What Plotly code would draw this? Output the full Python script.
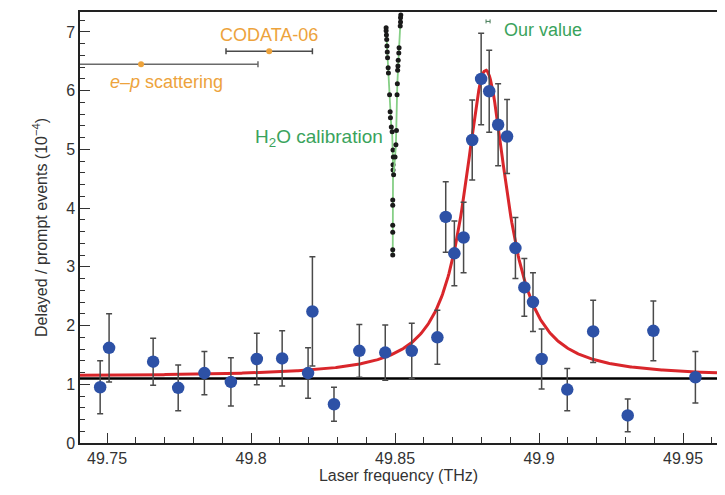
import numpy as np
import plotly.graph_objects as go

# Measured data (laser frequency in THz, delayed/prompt ratio in 1e-4)
freq = [49.7476, 49.7507, 49.7660, 49.7747, 49.7838, 49.7930, 49.8020, 49.8108,
        49.8198, 49.8213, 49.8288, 49.8376, 49.8466, 49.8558, 49.8647, 49.8676,
        49.8706, 49.8738, 49.8768, 49.8799, 49.8827, 49.8858, 49.8889, 49.8918,
        49.8949, 49.8979, 49.9009, 49.9098, 49.9188, 49.9308, 49.9397, 49.9543]
ratio = [0.95, 1.62, 1.385, 0.94, 1.19, 1.04, 1.43, 1.44,
         1.19, 2.24, 0.66, 1.57, 1.54, 1.57, 1.80, 3.85,
         3.23, 3.50, 5.16, 6.20, 5.99, 5.42, 5.22, 3.32,
         2.65, 2.40, 1.43, 0.91, 1.90, 0.47, 1.91, 1.12]
err = [0.45, 0.58, 0.40, 0.39, 0.37, 0.41, 0.44, 0.47,
       0.43, 0.93, 0.29, 0.45, 0.47, 0.47, 0.46, 0.60,
       0.55, 0.60, 0.68, 0.78, 0.70, 0.70, 0.63, 0.52,
       0.49, 0.50, 0.51, 0.36, 0.53, 0.28, 0.51, 0.44]

# Lorentzian fit parameters
fit_center = 49.8815
fit_hwhm = 0.0091
fit_amp = 5.22
fit_bg = 1.13
background_level = 1.10

# Reference values (frequency, error, vertical placement)
ep_f, ep_err, ep_y = [49.7618], [0.0406], [6.45]
codata_f, codata_err, codata_y = [49.8063], [0.0150], [6.67]
ours_f, ours_err, ours_y = [49.8823], [0.0007], [7.18]

# H2O calibration traces
h2o_a_f = [49.8469, 49.8469, 49.8470, 49.8471, 49.8472, 49.8473, 49.8474, 49.8476,
           49.8477, 49.8481, 49.8483, 49.8484, 49.8487, 49.8490, 49.8493, 49.8494,
           49.8493, 49.8493, 49.8492, 49.8492, 49.8492, 49.8492, 49.8492, 49.8492]
h2o_a_v = [7.07, 7.02, 6.95, 6.87, 6.76, 6.66, 6.56, 6.39,
           6.30, 5.93, 5.64, 5.54, 5.38, 5.30, 4.99, 4.87,
           4.74, 4.65, 4.14, 4.05, 3.71, 3.59, 3.29, 3.20]
h2o_b_f = [49.8520, 49.8519, 49.8519, 49.8518, 49.8514, 49.8513, 49.8511, 49.8510,
           49.8509, 49.8508, 49.8507, 49.8505, 49.8503, 49.8500, 49.8495]
h2o_b_v = [7.29, 7.24, 7.17, 7.10, 6.73, 6.64, 6.52, 6.42,
           6.35, 6.12, 5.93, 5.32, 5.08, 4.87, 4.57]

x_range = [49.7406, 49.9618]
y_range = [0, 7.34]

fig = go.Figure()

# background line
fig.add_trace(go.Scatter(x=x_range, y=[background_level, background_level], mode="lines",
                         line=dict(color="black", width=2.5), hoverinfo="skip"))

# fit curve
fx = np.linspace(x_range[0], x_range[1], 600)
fy = fit_bg + fit_amp / (1 + ((fx - fit_center) / fit_hwhm) ** 2)
fig.add_trace(go.Scatter(x=fx, y=fy, mode="lines", line=dict(color="#d9262b", width=3),
                         hoverinfo="skip"))

# H2O calibration
for xs, ys in [(h2o_a_f, h2o_a_v), (h2o_b_f, h2o_b_v)]:
    fig.add_trace(go.Scatter(x=xs, y=ys, mode="lines+markers",
                             line=dict(color="#86cf86", width=1.8),
                             marker=dict(color="#1a1a1a", size=5)))

# data points
fig.add_trace(go.Scatter(x=freq, y=ratio, mode="markers",
                         marker=dict(color="#2d51a6", size=12.5),
                         error_y=dict(type="data", array=err, color="#4a4a4a",
                                      thickness=1.5, width=3)))

# reference values
fig.add_trace(go.Scatter(x=ep_f, y=ep_y, mode="markers",
                         marker=dict(color="#eda33c", size=6),
                         error_x=dict(type="data", array=ep_err, color="#6a6a6a",
                                      thickness=1.5, width=3)))
fig.add_trace(go.Scatter(x=codata_f, y=codata_y, mode="markers",
                         marker=dict(color="#eda33c", size=6),
                         error_x=dict(type="data", array=codata_err, color="#4a4a4a",
                                      thickness=1.5, width=3)))
fig.add_trace(go.Scatter(x=ours_f, y=ours_y, mode="markers",
                         marker=dict(color="#3a9a5a", size=1),
                         error_x=dict(type="data", array=ours_err, color="#4a7a5a",
                                      thickness=1, width=2)))

lab_font = dict(family="Liberation Sans, Arial, sans-serif", size=18)
fig.add_annotation(x=49.7503, y=6.15, text="<i>e</i>–<i>p</i> scattering", showarrow=False,
                   xanchor="left", yanchor="middle", font=dict(lab_font, color="#eda33c"))
fig.add_annotation(x=49.7885, y=6.95, text="CODATA-06", showarrow=False,
                   xanchor="left", yanchor="middle", font=dict(lab_font, color="#eda33c"))
fig.add_annotation(x=49.8872, y=7.04, text="Our value", showarrow=False,
                   xanchor="left", yanchor="middle", font=dict(lab_font, color="#3aa35c"))
fig.add_annotation(x=49.8465, y=5.2, text="H<sub>2</sub>O calibration", showarrow=False,
                   xanchor="right", yanchor="middle",
                   font=dict(lab_font, size=19, color="#3aa35c"))

tick_font = dict(family="Liberation Sans, Arial, sans-serif", size=16, color="#333333")
fig.update_layout(
    width=717, height=487,
    margin=dict(l=72, r=8, t=4, b=52),
    paper_bgcolor="white", plot_bgcolor="white",
    showlegend=False,
    xaxis=dict(range=x_range, showgrid=False, zeroline=False, automargin=False,
               showline=True, linecolor="#222", linewidth=1.5, mirror=True,
               ticks="inside", ticklen=10, tickwidth=1.2, tickcolor="#333",
               tick0=49.75, dtick=0.05, tickformat=".2~f",
               minor=dict(ticks="inside", ticklen=6, tickwidth=1, tickcolor="#333", dtick=0.01),
               tickfont=tick_font,
               title=dict(text="Laser frequency (THz)", font=dict(tick_font, size=16),
                          standoff=4)),
    yaxis=dict(range=y_range, showgrid=False, zeroline=False, automargin=False,
               showline=True, linecolor="#222", linewidth=1.5, mirror=True,
               ticks="inside", ticklen=10, tickwidth=1.2, tickcolor="#333",
               tick0=0, dtick=1,
               minor=dict(ticks="inside", ticklen=5, tickwidth=1, tickcolor="#333", dtick=0.2),
               tickfont=tick_font,
               title=dict(text="Delayed / prompt events (10<sup>−4</sup>)",
                          font=dict(tick_font, size=16), standoff=15)),
)

fig.write_html("out.html")
